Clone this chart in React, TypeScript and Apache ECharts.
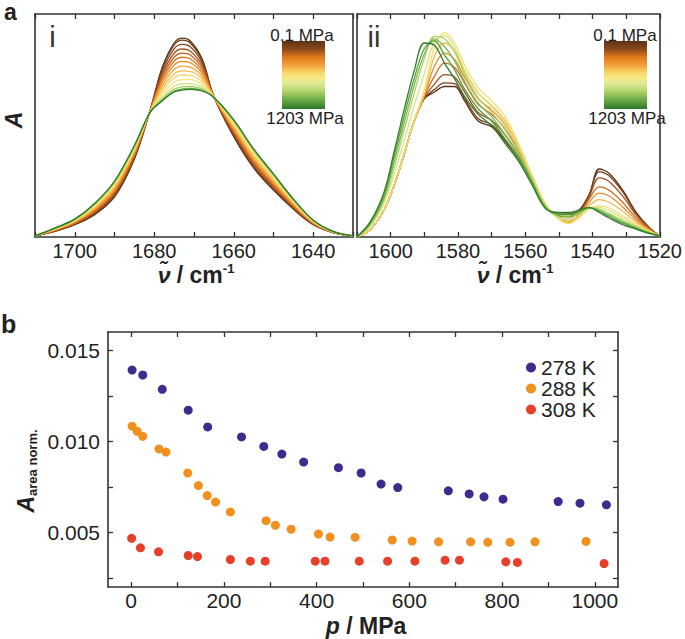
import React, { useEffect, useRef } from 'react';
import * as echarts from 'echarts';

const FONT = '"Liberation Sans", Arial, Helvetica, sans-serif';

// ---------- Panel a(i): wavenumber grid (cm-1) and spectra (arb. units, 0-100) ----------
const WN_I = [1710, 1705, 1700, 1695, 1690, 1685, 1681, 1678, 1675, 1673, 1671, 1668, 1665, 1660, 1655, 1650, 1645, 1640, 1635, 1630];
const I01 = [0.5, 2.5, 5.5, 10, 18, 35, 57, 76, 87, 89.2, 88, 80, 63, 45, 31, 21, 12.5, 5.5, 2, 0.5];
const I02 = [0.5, 2.6, 5.6, 10.2, 18.3, 35.2, 57, 75.4, 86.1, 88.3, 87.1, 79.4, 63, 45.3, 31.3, 21.3, 12.7, 5.6, 2, 0.5];
const I03 = [0.5, 2.7, 5.8, 10.6, 18.8, 35.7, 56.9, 74.2, 84.4, 86.4, 85.4, 78.3, 63, 45.9, 32, 21.9, 13, 5.7, 2.1, 0.5];
const I04 = [0.5, 2.8, 6, 11.1, 19.5, 36.3, 56.8, 72.9, 82.4, 84.3, 83.4, 77, 62.9, 46.6, 32.8, 22.5, 13.4, 5.9, 2.1, 0.5];
const I05 = [0.5, 2.9, 6.2, 11.5, 20, 36.7, 56.7, 71.7, 80.6, 82.4, 81.7, 75.8, 62.9, 47.2, 33.5, 23.1, 13.8, 6.1, 2.1, 0.5];
const I06 = [0.5, 3.1, 6.4, 11.9, 20.6, 37.2, 56.6, 70.5, 78.9, 80.6, 79.9, 74.6, 62.9, 47.8, 34.1, 23.7, 14.2, 6.2, 2.2, 0.5];
const I07 = [0.5, 3.2, 6.6, 12.3, 21.2, 37.7, 56.6, 69.3, 77.1, 78.7, 78.2, 73.5, 62.8, 48.4, 34.8, 24.3, 14.5, 6.4, 2.2, 0.5];
const I08 = [0.5, 3.3, 6.9, 12.7, 21.8, 38.2, 56.5, 67.9, 75.1, 76.6, 76.2, 72.2, 62.8, 49.1, 35.6, 24.9, 14.9, 6.6, 2.3, 0.5];
const I09 = [0.5, 3.4, 7.1, 13.2, 22.4, 38.8, 56.4, 66.6, 73.1, 74.5, 74.3, 70.9, 62.7, 49.7, 36.4, 25.6, 15.3, 6.8, 2.3, 0.5];
const I10 = [0.5, 3.6, 7.3, 13.6, 23, 39.3, 56.3, 65.4, 71.4, 72.7, 72.5, 69.7, 62.7, 50.3, 37, 26.2, 15.7, 6.9, 2.4, 0.5];
const I11 = [0.5, 3.7, 7.5, 14, 23.6, 39.8, 56.2, 64, 69.4, 70.6, 70.6, 68.4, 62.7, 51, 37.8, 26.8, 16.1, 7.1, 2.4, 0.5];
const I12 = [0.5, 3.8, 7.7, 14.4, 24.2, 40.3, 56.1, 62.8, 67.6, 68.7, 68.8, 67.2, 62.6, 51.6, 38.5, 27.4, 16.5, 7.3, 2.4, 0.5];
const I13 = [0.5, 3.9, 7.9, 14.7, 24.6, 40.6, 56.1, 61.9, 66.3, 67.3, 67.5, 66.4, 62.6, 52.1, 39, 27.9, 16.7, 7.4, 2.5, 0.5];
const I14 = [0.5, 4, 8, 14.9, 24.9, 40.9, 56, 61.3, 65.4, 66.4, 66.6, 65.8, 62.6, 52.4, 39.3, 28.2, 16.9, 7.5, 2.5, 0.5];
const I15 = [0.5, 4, 8, 15, 25, 41, 56, 61, 65, 65.9, 66.2, 65.5, 62.6, 52.5, 39.5, 28.3, 17, 7.5, 2.5, 0.5];
const SPEC_I = [I01, I02, I03, I04, I05, I06, I07, I08, I09, I10, I11, I12, I13, I14, I15];
const COLORS_I = ['#5a3214', '#6a3a18', '#864620', '#a8541e', '#c8641c', '#e0761e', '#ec8e2c', '#f2a63e', '#f5bd52', '#f6d466', '#f2e27a', '#d8e07c', '#a8cd62', '#6aaa44', '#2f7d2b'];

// ---------- Panel a(ii) ----------
const WN_II = [1610, 1606, 1602, 1599, 1596, 1593, 1590, 1587, 1584, 1581, 1578, 1574, 1570, 1566, 1562, 1558, 1554, 1550, 1547, 1544, 1541, 1538, 1535, 1531, 1527, 1523, 1520];
const II01 = [0, 3.5, 12, 23, 37, 52, 62, 65, 67.5, 67.5, 61, 52, 49.5, 43, 35, 25, 13.5, 10.3, 10.5, 12, 19, 30.5, 28.5, 21, 11, 4, 0.5];
const II02 = [0, 3.5, 12, 23, 37, 52, 62.2, 66.1, 69.1, 68.8, 62.2, 53.1, 50.3, 43.8, 35.5, 25.3, 13.7, 10, 10, 11.7, 18.7, 29.3, 27.4, 20.2, 10.6, 3.9, 0.5];
const II03 = [0, 3.5, 12, 23, 37, 52, 62.5, 68.5, 72.8, 71.8, 65, 55.8, 52.3, 45.8, 36.8, 26, 14, 9.4, 9, 11, 18, 26.5, 24.8, 18.3, 9.8, 3.8, 0.5];
const II04 = [0, 3.5, 12, 23, 37, 52, 63, 72, 78, 76, 69, 59.5, 55, 48.5, 38.5, 27, 14.5, 8.5, 7.5, 10, 17, 22.5, 21, 15.5, 8.5, 3.5, 0.5];
const II05 = [0, 3.5, 12, 23, 37, 52, 63.3, 76.5, 82.5, 79.6, 71.6, 62, 57, 50.3, 39.7, 27.3, 14.7, 8.3, 7, 9.5, 15.5, 19.7, 18.4, 13.5, 7.5, 3.2, 0.5];
const II06 = [0, 3.5, 12, 23, 37, 52, 63.7, 81, 87, 83.4, 74.4, 64.5, 59, 52.2, 40.8, 27.7, 14.8, 8.2, 6.5, 9, 14, 16.8, 15.6, 11.5, 6.5, 2.8, 0.5];
const II07 = [0, 3.5, 12, 23, 37, 52, 66, 85, 91.5, 87, 77, 67, 61, 54, 42, 28, 15, 8, 6, 8.5, 12.5, 14, 13, 9.5, 5.5, 2.5, 0.5];
const II08 = [0, 5, 15, 28, 43, 59, 73, 87.5, 90.3, 85, 75, 64.8, 58.5, 51, 40, 27, 14.5, 8.5, 7.3, 9.5, 12.8, 13.3, 11.8, 8.5, 5, 2.3, 0.5];
const II09 = [0, 5.5, 16.5, 31, 48, 64.5, 80, 90, 89, 83, 73, 62.5, 56, 48, 38, 26, 14, 9, 8.5, 10.5, 13, 12.5, 10.5, 7.5, 4.5, 2, 0.5];
const II10 = [0, 6, 17.5, 33.5, 51, 68, 82.1, 89, 85.4, 79, 69.7, 60, 54, 46, 36.7, 25.2, 13.6, 9.7, 9.3, 11, 13.1, 12, 9.8, 6.8, 4.2, 1.8, 0.5];
const II11 = [0, 6.5, 18.8, 35.8, 54, 71, 84.4, 88, 81.6, 75, 66.3, 57.5, 52, 44, 35.3, 24.3, 13.2, 10.3, 10.2, 11.5, 13.2, 11.5, 9.2, 6.2, 3.8, 1.7, 0.5];
const II12 = [0, 7, 20, 38, 57, 74.5, 87, 86, 78, 71, 63, 55, 50, 42, 34, 23.5, 12.8, 11, 11, 12, 13.3, 11, 8.5, 5.5, 3.5, 1.5, 0.5];
const SPEC_II = [II01, II02, II03, II04, II05, II06, II07, II08, II09, II10, II11, II12];
const COLORS_II = ['#5a3214', '#74401c', '#9c5020', '#d06a1c', '#eb8a28', '#f3b848', '#f3df70', '#d9e37e', '#aed264', '#7fb84c', '#56a03c', '#2f7d2b'];

// ---------- Panel b ----------
const P_278 = [2, 25, 67, 123, 165, 238, 286, 325, 372, 447, 496, 539, 575, 684, 729, 761, 802, 921, 968, 1025];
const A_278 = [0.01391, 0.01364, 0.01285, 0.01171, 0.01079, 0.01024, 0.00972, 0.0093, 0.00886, 0.00855, 0.00826, 0.00765, 0.00746, 0.00728, 0.00711, 0.00695, 0.00682, 0.00669, 0.0066, 0.00651];
const P_288 = [2, 13, 25, 60, 75, 122, 145, 164, 182, 214, 291, 311, 345, 404, 429, 483, 563, 606, 663, 732, 769, 817, 871, 981];
const A_288 = [0.01083, 0.01055, 0.01027, 0.00958, 0.00941, 0.00826, 0.00757, 0.00702, 0.00666, 0.00612, 0.00564, 0.00539, 0.00517, 0.00491, 0.00474, 0.00473, 0.00458, 0.00452, 0.00448, 0.00448, 0.00445, 0.00445, 0.00448, 0.0045];
const P_308 = [1, 20, 59, 123, 143, 214, 257, 289, 397, 418, 492, 553, 612, 677, 708, 808, 833, 1020];
const A_308 = [0.00467, 0.00415, 0.00393, 0.00373, 0.00367, 0.00351, 0.00342, 0.00342, 0.00342, 0.00342, 0.00342, 0.00342, 0.00342, 0.00347, 0.00347, 0.00338, 0.00335, 0.00329];
const TEMPS = ['278 K', '288 K', '308 K'];
const TEMP_COLORS = ['#3f2a8e', '#f0901e', '#e6402a'];

const X_TICKS_B = [0, 100, 200, 300, 400, 500, 600, 700, 800, 900, 1000];
const X_LABELS_B = [0, 200, 400, 600, 800, 1000];
const Y_TICKS_B = [0.0025, 0.005, 0.0075, 0.01, 0.0125, 0.015];
const Y_LABELS_B = [0.005, 0.01, 0.015];

const BAR_STOPS = [
  [0, '#5a3216'], [0.12, '#8c4a1c'], [0.24, '#e27a1a'], [0.36, '#f3a23e'],
  [0.46, '#f7d464'], [0.54, '#f8ea82'], [0.63, '#dfe996'], [0.73, '#b4d66e'],
  [0.84, '#78b44c'], [1, '#2b772a'],
];

const AX = '#333333';
const TXT = '#222222';

function specXAxis(grid: number, pos: 'top' | 'bottom', min: number, max: number) {
  return {
    gridIndex: grid, type: 'value', position: pos, min, max, interval: 10, inverse: true,
    axisLine: { show: true, onZero: false, lineStyle: { color: AX, width: 1.6 } },
    axisTick: { show: true, inside: true, length: 5, lineStyle: { color: AX, width: 1.3 } },
    axisLabel: {
      show: pos === 'bottom', margin: 4, fontSize: 20, color: TXT, fontFamily: FONT,
      showMinLabel: true, showMaxLabel: true, hideOverlap: false,
      formatter: (v: number) => (Math.round(v) % 20 === 0 ? String(Math.round(v)) : ''),
    },
    splitLine: { show: false },
  };
}

function plainYAxis(grid: number, pos: 'left' | 'right') {
  return {
    gridIndex: grid, type: 'value', position: pos, min: 0, max: 100,
    axisLine: { show: true, onZero: false, lineStyle: { color: AX, width: 1.6 } },
    axisTick: { show: false }, axisLabel: { show: false }, splitLine: { show: false },
  };
}

export default function App() {
  const ref = useRef<HTMLDivElement>(null);
  useEffect(() => {
    const chart = echarts.init(ref.current!, null, { renderer: 'svg' });

    const specSeries: any[] = [];
    SPEC_I.forEach((vals, k) => {
      specSeries.push({
        type: 'line', xAxisIndex: 0, yAxisIndex: 0, silent: true,
        data: WN_I.map((w, j) => [w, vals[j]]), showSymbol: false, smooth: 0.35,
        lineStyle: { width: 1.3, color: COLORS_I[k] },
      });
    });
    SPEC_II.forEach((vals, k) => {
      specSeries.push({
        type: 'line', xAxisIndex: 2, yAxisIndex: 2, silent: true,
        data: WN_II.map((w, j) => [w, vals[j]]), showSymbol: false, smooth: 0.35,
        lineStyle: { width: 1.3, color: COLORS_II[k] },
      });
    });

    const scat = [
      [P_278, A_278], [P_288, A_288], [P_308, A_308],
    ].map(([ps, as], k) => ({
      type: 'scatter', name: TEMPS[k], xAxisIndex: 4, yAxisIndex: 4,
      symbol: 'circle', symbolSize: 9,
      itemStyle: { color: TEMP_COLORS[k], opacity: 1 },
      data: (ps as number[]).map((p, j) => [p, (as as number[])[j]]),
    }));

    const grad = () => new echarts.graphic.LinearGradient(0, 0, 0, 1,
      BAR_STOPS.map(([o, c]) => ({ offset: o as number, color: c as string })));

    const titleRich = {
      v: { fontSize: 23, fontWeight: 'bold', fontStyle: 'italic', fontFamily: FONT, fill: TXT, lineHeight: 26 },
      n: { fontSize: 23, fontWeight: 'bold', fontFamily: FONT, fill: TXT, lineHeight: 26 },
      s: { fontSize: 13, fontWeight: 'bold', fontFamily: FONT, fill: TXT, lineHeight: 14, verticalAlign: 'top' },
    };

    const option: any = {
      animation: false,
      backgroundColor: '#ffffff',
      grid: [
        { left: 35, top: 14, width: 318, height: 223 },
        { left: 357, top: 14, width: 316, height: 223 },
        { left: 108, top: 332, width: 510, height: 255 },
      ],
      xAxis: [
        specXAxis(0, 'bottom', 1630, 1710),
        specXAxis(0, 'top', 1630, 1710),
        specXAxis(1, 'bottom', 1520, 1610),
        specXAxis(1, 'top', 1520, 1610),
        {
          gridIndex: 2, type: 'value', position: 'bottom', min: -50, max: 1050,
          axisLine: { show: true, onZero: false, lineStyle: { color: AX, width: 1.6 } },
          axisTick: { show: true, inside: true, length: 5, customValues: X_TICKS_B, lineStyle: { color: AX, width: 1.3 } },
          axisLabel: { show: true, customValues: X_LABELS_B, margin: 3, fontSize: 21, color: TXT, fontFamily: FONT, formatter: (v: number) => String(v) },
          splitLine: { show: false },
        },
        {
          gridIndex: 2, type: 'value', position: 'top', min: -50, max: 1050,
          axisLine: { show: true, onZero: false, lineStyle: { color: AX, width: 1.6 } },
          axisTick: { show: true, inside: true, length: 5, customValues: X_TICKS_B, lineStyle: { color: AX, width: 1.3 } },
          axisLabel: { show: false }, splitLine: { show: false },
        },
      ],
      yAxis: [
        plainYAxis(0, 'left'),
        plainYAxis(0, 'right'),
        plainYAxis(1, 'left'),
        plainYAxis(1, 'right'),
        {
          gridIndex: 2, type: 'value', position: 'left', min: 0.002, max: 0.016,
          axisLine: { show: true, onZero: false, lineStyle: { color: AX, width: 1.6 } },
          axisTick: { show: true, inside: true, length: 5, customValues: Y_TICKS_B, lineStyle: { color: AX, width: 1.3 } },
          axisLabel: {
            show: true, customValues: Y_LABELS_B, margin: 8, fontSize: 21, color: TXT, fontFamily: FONT,
            formatter: (v: number) => v.toFixed(3),
          },
          splitLine: { show: false },
        },
        {
          gridIndex: 2, type: 'value', position: 'right', min: 0.002, max: 0.016,
          axisLine: { show: true, onZero: false, lineStyle: { color: AX, width: 1.6 } },
          axisTick: { show: true, inside: true, length: 5, customValues: Y_TICKS_B, lineStyle: { color: AX, width: 1.3 } },
          axisLabel: { show: false }, splitLine: { show: false },
        },
      ],
      legend: {
        data: TEMPS, orient: 'vertical', left: 526, top: 357, padding: 0,
        itemWidth: 10, itemHeight: 10, itemGap: 0, icon: 'circle',
        textStyle: { fontSize: 21, lineHeight: 19, color: TXT, fontFamily: FONT },
      },
      series: [...specSeries, ...scat],
      graphic: [
        { type: 'text', x: 4, y: 12, style: { text: 'a', fontSize: 23, fontWeight: 'bold', fontFamily: FONT, fill: TXT, align: 'left', verticalAlign: 'middle' } },
        { type: 'text', x: 1, y: 324, style: { text: 'b', fontSize: 25, fontWeight: 'bold', fontFamily: FONT, fill: TXT, align: 'left', verticalAlign: 'middle' } },
        { type: 'text', x: 52.5, y: 37, style: { text: 'i', fontSize: 29, fontFamily: FONT, fill: AX, align: 'center', verticalAlign: 'middle' } },
        { type: 'text', x: 374, y: 37, style: { text: 'ii', fontSize: 29, fontFamily: FONT, fill: AX, align: 'center', verticalAlign: 'middle' } },
        // colour bars
        { type: 'rect', shape: { x: 282, y: 41, width: 43, height: 68 }, style: { fill: grad() } },
        { type: 'rect', shape: { x: 604, y: 41, width: 43, height: 68 }, style: { fill: grad() } },
        { type: 'text', x: 302, y: 35, style: { text: '0.1 MPa', fontSize: 17, fontFamily: FONT, fill: TXT, align: 'center', verticalAlign: 'middle' } },
        { type: 'text', x: 305, y: 118, style: { text: '1203 MPa', fontSize: 17, fontFamily: FONT, fill: TXT, align: 'center', verticalAlign: 'middle' } },
        { type: 'text', x: 625, y: 35, style: { text: '0.1 MPa', fontSize: 17, fontFamily: FONT, fill: TXT, align: 'center', verticalAlign: 'middle' } },
        { type: 'text', x: 627, y: 118, style: { text: '1203 MPa', fontSize: 17, fontFamily: FONT, fill: TXT, align: 'center', verticalAlign: 'middle' } },
        // axis titles
        { type: 'text', x: 196, y: 275, style: { text: '{v|ν\u0303}{n| / cm}{s|-1}', rich: titleRich, align: 'center', verticalAlign: 'middle' } },
        { type: 'text', x: 515, y: 275, style: { text: '{v|ν\u0303}{n| / cm}{s|-1}', rich: titleRich, align: 'center', verticalAlign: 'middle' } },
        { type: 'text', x: 13.5, y: 120, rotation: Math.PI / 2, style: { text: 'A', fontSize: 23, fontWeight: 'bold', fontStyle: 'italic', fontFamily: FONT, fill: TXT, align: 'center', verticalAlign: 'middle' } },
        { type: 'text', x: 366, y: 626, style: { text: '{v|p}{n| / MPa}', rich: titleRich, align: 'center', verticalAlign: 'middle' } },
        {
          type: 'text', x: 26, y: 471, rotation: Math.PI / 2,
          style: {
            text: '{a|A}{s|area norm.}', align: 'center', verticalAlign: 'middle',
            rich: {
              a: { fontSize: 23, fontWeight: 'bold', fontStyle: 'italic', fontFamily: FONT, fill: TXT, lineHeight: 26 },
              s: { fontSize: 13, fontWeight: 'bold', fontFamily: FONT, fill: TXT, lineHeight: 14, verticalAlign: 'bottom' },
            },
          },
        },
      ],
    };
    chart.setOption(option);
    return () => chart.dispose();
  }, []);
  return <div ref={ref} style={{ position: 'absolute', left: 0, top: 0, width: 685, height: 639 }} />;
}
